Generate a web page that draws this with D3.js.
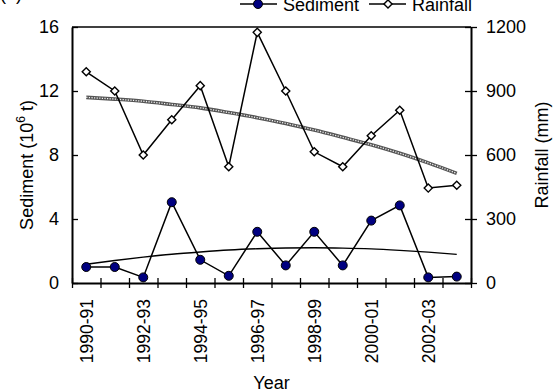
<!DOCTYPE html>
<html>
<head>
<meta charset="utf-8">
<script src="https://cdn.jsdelivr.net/npm/d3@7"></script>
<style>
  html, body { margin: 0; padding: 0; background: #fff; }
  svg { display: block; font-family: "Liberation Sans", Arial, sans-serif; }
</style>
</head>
<body>
<svg id="chart" width="555" height="392"></svg>
<script>
// Hydrological years
const years = ["1990-91", "1991-92", "1992-93", "1993-94", "1994-95", "1995-96", "1996-97",
               "1997-98", "1998-99", "1999-00", "2000-01", "2001-02", "2002-03", "2003-04"];
// Annual sediment load (10^6 t)
const sediment = [1.0, 1.0, 0.35, 5.05, 1.45, 0.45, 3.2, 1.1, 3.2, 1.1, 3.9, 4.85, 0.35, 0.4];
// Annual rainfall (mm)
const rainfall = [990, 900, 600, 765, 925, 545, 1175, 900, 615, 545, 690, 810, 445, 458];
// Polynomial trend values
const sedimentTrend = [1.17, 1.41, 1.62, 1.80, 1.94, 2.06, 2.14, 2.19, 2.20, 2.18, 2.13, 2.04, 1.93, 1.79];
const rainfallTrend = [870, 862, 852, 837, 821, 799, 775, 748, 717, 683, 648, 608, 563, 514];
// Axis ticks and labels
const sedimentTicks = [0, 4, 8, 12, 16];
const rainfallTicks = [0, 300, 600, 900, 1200];
const labelledYears = years.filter((d, i) => i % 2 === 0);

const svg = d3.select("#chart");
const m = { left: 72, right: 471, top: 27, bottom: 283 };

const x = d3.scaleBand().domain(years).range([m.left, m.right]).padding(0);
const xEdge = d3.scaleLinear().domain([0, years.length]).range([m.left, m.right]);
const yL = d3.scaleLinear().domain([0, 16]).range([m.bottom, m.top]);
const yR = d3.scaleLinear().domain([0, 1200]).range([m.bottom, m.top]);
const cx = d => x(d) + x.bandwidth() / 2;
const plain = d3.format("d");

// Top frame line
svg.append("line")
  .attr("x1", m.left).attr("x2", m.right)
  .attr("y1", m.top).attr("y2", m.top)
  .attr("stroke", "#000").attr("stroke-width", 1.5);

function styleAxis(g) {
  g.select(".domain").attr("stroke", "#000").attr("stroke-width", 2);
  g.selectAll(".tick line").attr("stroke", "#000").attr("stroke-width", 1.3);
  g.selectAll("text").attr("fill", "#000");
}

// Left axis
const gL = svg.append("g").attr("transform", `translate(${m.left},0)`)
  .call(d3.axisLeft(yL).tickValues(sedimentTicks).tickFormat(plain)
    .tickSize(5).tickSizeOuter(0).tickPadding(8));
gL.selectAll(".tick line").attr("x2", 6);
gL.selectAll("text").attr("font-size", 18);
styleAxis(gL);

// Right axis
const gR = svg.append("g").attr("transform", `translate(${m.right},0)`)
  .call(d3.axisRight(yR).tickValues(rainfallTicks).tickFormat(plain)
    .tickSize(6).tickSizeOuter(0).tickPadding(9));
gR.selectAll(".tick line").attr("x1", -6);
gR.selectAll("text").attr("font-size", 18);
styleAxis(gR);

// Bottom axis: tick marks on band boundaries
const gB = svg.append("g").attr("transform", `translate(0,${m.bottom})`)
  .call(d3.axisBottom(xEdge).tickValues(d3.range(years.length + 1)).tickSize(5).tickSizeOuter(0).tickFormat(""));
gB.selectAll(".tick line").attr("y1", -5);
styleAxis(gB);

// Bottom axis: rotated year labels at band centres
const gBL = svg.append("g").attr("transform", `translate(0,${m.bottom})`)
  .call(d3.axisBottom(x).tickValues(labelledYears).tickSize(0).tickPadding(0));
gBL.select(".domain").remove();
gBL.selectAll("text")
  .attr("font-size", 17.5)
  .attr("fill", "#000")
  .attr("text-anchor", "end")
  .attr("transform", "rotate(-90)")
  .attr("x", -16)
  .attr("y", 0)
  .attr("dy", "0.36em");

// Axis titles
svg.append("text")
  .attr("x", (m.left + m.right) / 2).attr("y", 389)
  .attr("text-anchor", "middle").attr("font-size", 18).text("Year");

const tl = svg.append("text")
  .attr("transform", `translate(33,${(m.top + m.bottom) / 2 + 10}) rotate(-90)`)
  .attr("text-anchor", "middle").attr("font-size", 18);
tl.append("tspan").text("Sediment (10");
tl.append("tspan").attr("font-size", 12).attr("dy", -8).text("6");
tl.append("tspan").attr("dy", 8).text(" t)");

svg.append("text")
  .attr("transform", `translate(548,${(m.top + m.bottom) / 2}) rotate(-90)`)
  .attr("text-anchor", "middle").attr("font-size", 18).text("Rainfall (mm)");

// Panel label
svg.append("text").attr("x", 0).attr("y", 0).attr("font-size", 18).text("(a)");

// Trend lines
const rainTrendLine = d3.line().x((d, i) => cx(years[i])).y(d => yR(d)).curve(d3.curveMonotoneX);
svg.append("path").datum(rainfallTrend)
  .attr("d", rainTrendLine).attr("fill", "none")
  .attr("stroke", "#555").attr("stroke-width", 3.6);
svg.append("path").datum(rainfallTrend)
  .attr("d", rainTrendLine).attr("fill", "none")
  .attr("stroke", "#f2f2f2").attr("stroke-width", 1.3).attr("stroke-dasharray", "1.2 1.4");

const sedTrendLine = d3.line().x((d, i) => cx(years[i])).y(d => yL(d)).curve(d3.curveMonotoneX);
svg.append("path").datum(sedimentTrend)
  .attr("d", sedTrendLine).attr("fill", "none")
  .attr("stroke", "#000").attr("stroke-width", 1.4);

// Rainfall series
const rainLine = d3.line().x((d, i) => cx(years[i])).y(d => yR(d));
svg.append("path").datum(rainfall)
  .attr("d", rainLine).attr("fill", "none")
  .attr("stroke", "#000").attr("stroke-width", 1.5);
const diamond = d3.symbol().type(d3.symbolDiamond2).size(42);
svg.append("g").selectAll("path").data(rainfall).join("path")
  .attr("transform", (d, i) => `translate(${cx(years[i])},${yR(d)})`)
  .attr("d", diamond)
  .attr("fill", "#fff").attr("stroke", "#000").attr("stroke-width", 1.4);

// Sediment series
const sedLine = d3.line().x((d, i) => cx(years[i])).y(d => yL(d));
svg.append("path").datum(sediment)
  .attr("d", sedLine).attr("fill", "none")
  .attr("stroke", "#000").attr("stroke-width", 1.5);
svg.append("g").selectAll("circle").data(sediment).join("circle")
  .attr("cx", (d, i) => cx(years[i])).attr("cy", d => yL(d)).attr("r", 4.5)
  .attr("fill", "#000080").attr("stroke", "#000").attr("stroke-width", 1);

// Legend
const lg = svg.append("g");
lg.append("line").attr("x1", 240).attr("x2", 277).attr("y1", 4).attr("y2", 4)
  .attr("stroke", "#000").attr("stroke-width", 1.5);
lg.append("circle").attr("cx", 258).attr("cy", 4).attr("r", 4.5)
  .attr("fill", "#000080").attr("stroke", "#000");
lg.append("text").attr("x", 283).attr("y", 11).attr("font-size", 18).text("Sediment");
lg.append("line").attr("x1", 369).attr("x2", 406).attr("y1", 4).attr("y2", 4)
  .attr("stroke", "#000").attr("stroke-width", 1.5);
lg.append("path").attr("transform", "translate(388,4)").attr("d", diamond)
  .attr("fill", "#fff").attr("stroke", "#000").attr("stroke-width", 1.4);
lg.append("text").attr("x", 412).attr("y", 11).attr("font-size", 18).text("Rainfall");
</script>
</body>
</html>
